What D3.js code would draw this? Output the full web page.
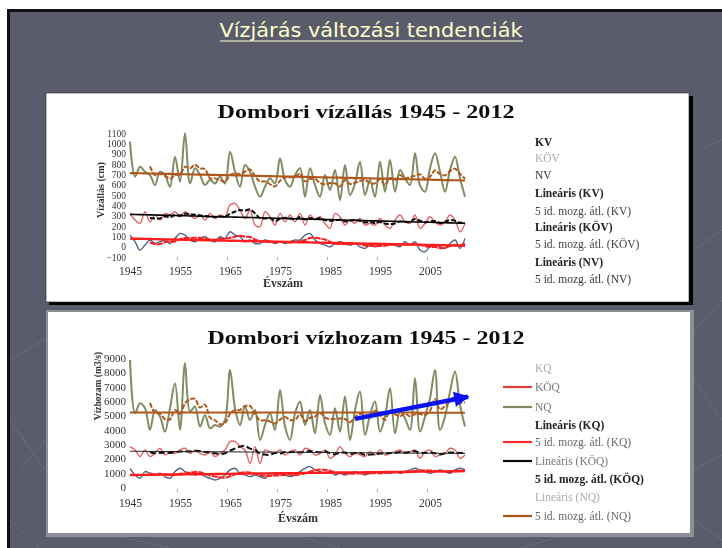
<!DOCTYPE html>
<html><head><meta charset="utf-8">
<script src="https://cdn.jsdelivr.net/npm/d3@7"></script>
<style>html,body{margin:0;padding:0;background:#fff;overflow:hidden}svg{display:block}</style>
</head><body>
<svg id="c" width="722" height="548"></svg>
<script>
// ---------- DATA ----------
const years = d3.range(1945, 2013);
// Vízállás (cm)
const NV = [1016,677,774,725,693,596,725,693,580,871, 629,1097,612,758,693,596,645,612,677,612,
  919,725,580,790,725,580,483,580,661,612, 855,645,580,693,758,483,758,596,483,693,
  548,741,451,790,500,612,822,500,645,483, 822,532,838,532,741,661,596,903,596,532,
  758,903,725,532,741,871,661,483];
const KOV = [322,257,225,338,241,306,257,322,306,338, 290,338,306,273,306,257,322,273,306,290,
  403,419,354,273,354,209,193,338,290,209, 322,241,306,241,322,209,306,257,290,225,
  177,322,290,209,257,225,273,209,225,209, 273,209,177,257,306,241,225,306,177,225,
  290,241,209,241,306,257,144,225];
const KV = [112,48,-33,15,64,31,48,64,31,80, 128,112,64,48,80,96,64,48,96,80,
  144,112,96,48,64,31,31,64,48,31, 48,31,48,64,64,112,128,64,31,15,
  -1,31,48,31,15,31,-1,-17,15,-1, 31,15,31,15,-1,48,15,48,-33,-49,
  -1,15,-1,-17,31,64,-17,80];
// Vízhozam (m3/s)
const NQ = [8865,5144,5842,5493,3981,5376,4911,3864,5493,7237, 3981,8633,5260,5609,4213,5027,4097,4330,4213,4678,
  8167,5493,4330,5609,4678,5376,3283,4330,5144,3981, 6772,4213,3283,5144,5958,4330,5376,3748,6423,4446,
  3632,5493,3864,6307,3283,5376,6656,3632,5027,5958, 3864,4911,6888,3748,5260,4795,3981,7586,3864,4911,
  6190,8167,3981,4911,6656,8051,5725,4213];
const KOQ = [2818,2585,2120,2585,2120,2352,2701,2236,2469,2352, 2585,2701,2352,2585,2352,2236,2469,2120,2352,2585,
  3167,3167,2818,2585,1655,2818,1655,2585,2469,2352, 2585,2236,2469,2585,2236,2701,2585,2236,2352,2585,
  2004,2236,2818,2352,2120,2352,2236,2120,2469,2236, 2585,2236,2352,2469,2585,2352,2469,2585,2004,2469,
  2585,2120,2236,2352,2701,2585,2004,2236];
const KQ = [1306,841,608,1073,957,841,957,724,608,1073, 1306,1073,957,841,957,724,608,492,608,841,
  1190,1306,957,841,724,841,724,608,957,841, 957,841,724,841,1073,1306,1422,1190,1073,957,
  1073,841,957,841,957,1073,957,841,957,1073, 957,1073,957,1073,957,1073,1190,1306,1190,1073,
  957,1073,1190,1073,957,1190,1306,1190];

const levelTicks = [-100,0,100,200,300,400,500,600,700,800,900,1000,1100];
const flowTicks = [0,1000,2000,3000,4000,5000,6000,7000,8000,9000];
const yearLabels = [1945,1955,1965,1975,1985,1995,2005];
const legendTop = ["KV","KÖV","NV","Lineáris (KV)","5 id. mozg. átl. (KV)","Lineáris (KÖV)","5 id. mozg. átl. (KÖV)","Lineáris (NV)","5 id. mozg. átl. (NV)"];
const legendBottom = ["KQ","KÖQ","NQ","Lineáris (KQ)","5 id. mozg. átl. (KQ)","Lineáris (KÖQ)","5 id. mozg. átl. (KÖQ)","Lineáris (NQ)","5 id. mozg. átl. (NQ)"];
const arrowNote = {x1:1990, y1:4750, x2:2012.6, y2:6300};

// ---------- HELPERS ----------
function movAvg(a, n){ return a.map((v,i)=> i<n-1 ? null : d3.mean(a.slice(i-n+1,i+1))); }
function linFit(xs, ys){
  const mx=d3.mean(xs), my=d3.mean(ys);
  let num=0, den=0; xs.forEach((x,i)=>{num+=(x-mx)*(ys[i]-my); den+=(x-mx)*(x-mx);});
  const b=num/den, a=my-b*mx; return xs.map(x=>a+b*x);
}

const svg = d3.select("#c");
const defs = svg.append("defs");
defs.append("filter").attr("id","soft").append("feGaussianBlur").attr("stdDeviation",0.45);
defs.append("marker").attr("id","ah").attr("viewBox","0 0 10 10").attr("refX",9).attr("refY",5)
  .attr("markerWidth",3.6).attr("markerHeight",3.4).attr("orient","auto")
  .append("path").attr("d","M0,0 L10,5 L0,10 z").attr("fill","#0a14f0");

// ---------- SLIDE ----------
svg.append("rect").attr("width",722).attr("height",548).attr("fill","#fff");
svg.append("rect").attr("x",7).attr("y",9).attr("width",715).attr("height",539).attr("fill","#111");
svg.append("rect").attr("x",10).attr("y",12).attr("width",712).attr("height",536).attr("fill","#5a5c6c");
const deco = [[[10,360],[60,330]],[[10,420],[45,470]],[[10,520],[40,548]],[[20,470],[46,440]],
  [[694,330],[722,300]],[[694,380],[722,420]],[[694,470],[722,455]],[[694,250],[722,230]],[[700,150],[722,140]],
  [[694,520],[722,540]],[[120,537],[170,548]],[[300,537],[340,548]],[[520,548],[560,537]]];
svg.append("g").selectAll("line").data(deco).join("line")
  .attr("x1",d=>d[0][0]).attr("y1",d=>d[0][1]).attr("x2",d=>d[1][0]).attr("y2",d=>d[1][1])
  .attr("stroke","#6a6c7c").attr("stroke-width",1);

svg.append("text").attr("x",371).attr("y",37).attr("text-anchor","middle")
  .attr("font-family","DejaVu Sans Condensed, DejaVu Sans, sans-serif").attr("font-size",20)
  .attr("textLength",303).attr("lengthAdjust","spacingAndGlyphs")
  .attr("fill","#ffffcc").text("Vízjárás változási tendenciák");
svg.append("line").attr("x1",220).attr("x2",523).attr("y1",41).attr("y2",41)
  .attr("stroke","#ffffcc").attr("stroke-width",1.2);

// panels
svg.append("rect").attr("x",49).attr("y",96).attr("width",644).attr("height",209).attr("fill","#000");
svg.append("rect").attr("x",46).attr("y",93).attr("width",643).attr("height",209).attr("fill","#fff")
  .attr("stroke","#222").attr("stroke-width",0.6);
svg.append("rect").attr("x",46).attr("y",310).attr("width",648).attr("height",227).attr("fill","#8e8f98");
svg.append("rect").attr("x",48).attr("y",312).attr("width",642).attr("height",221).attr("fill","#fff");

const serif = "Liberation Serif, Times New Roman, serif";

function drawChart(cfg){
  const g = svg.append("g").attr("filter","url(#soft)");
  const x = d3.scaleLinear().domain([1945,2012]).range([130,465]);
  const y = d3.scaleLinear().domain(cfg.domain).range(cfg.range);

  g.append("text").attr("x",cfg.titleX).attr("y",cfg.titleY).attr("text-anchor","middle")
    .attr("font-family",serif).attr("font-weight","bold").attr("font-size",18)
    .attr("textLength",cfg.titleW).attr("lengthAdjust","spacingAndGlyphs")
    .attr("fill","#111").text(cfg.title);

  const ya = g.append("g").attr("transform","translate(128,0)")
    .call(d3.axisLeft(y).tickValues(cfg.ticks).tickSize(0).tickPadding(2).tickFormat(d3.format("d")));
  ya.select(".domain").remove();
  ya.selectAll("text").attr("font-family",serif).attr("font-size",cfg.tickFont).attr("fill","#333");

  const xa = g.append("g").attr("transform",`translate(0,${cfg.xLabY})`)
    .call(d3.axisBottom(x).tickValues(yearLabels).tickSize(0).tickFormat(d3.format("d")));
  xa.select(".domain").remove();
  xa.selectAll("text").attr("font-family",serif).attr("font-size",11.5).attr("fill","#333");
  g.selectAll(".tk").data(yearLabels.slice(1)).join("line")
    .attr("x1",d=>x(d-0.5)).attr("x2",d=>x(d-0.5)).attr("y1",cfg.tickY).attr("y2",cfg.tickY+3)
    .attr("stroke","#aaa").attr("stroke-width",1);

  g.append("text").attr("x",cfg.xtX).attr("y",cfg.xtY).attr("text-anchor","middle")
    .attr("font-family",serif).attr("font-weight","bold").attr("font-size",12).attr("fill","#333").text("Évszám");
  g.append("text").attr("transform",`translate(${cfg.ytX},${cfg.ytY}) rotate(-90)`).attr("text-anchor","middle")
    .attr("font-family",serif).attr("font-weight","bold").attr("font-size",cfg.ytFont).attr("fill","#333").text(cfg.yTitle);

  const line = d3.line().defined(d=>d[1]!=null).x(d=>x(d[0])).y(d=>y(d[1])).curve(d3.curveCatmullRom.alpha(0.5));
  const pts = arr => years.map((yr,i)=>[yr,arr[i]]);

  cfg.series.forEach(s=>{
    g.append("path").attr("d",line(pts(s.data))).attr("fill","none")
      .attr("stroke",s.color).attr("stroke-width",s.w).attr("stroke-linejoin","round");
  });
  cfg.series.forEach(s=>{
    g.append("path").attr("d",line(pts(movAvg(s.data,5)))).attr("fill","none")
      .attr("stroke",s.maColor).attr("stroke-width",2).attr("stroke-dasharray",s.maDash);
    const lf = linFit(years, s.data);
    g.append("path").attr("d",d3.line().x((d,i)=>x(years[i])).y(d=>y(d))(lf)).attr("fill","none")
      .attr("stroke",s.linColor).attr("stroke-width",s.linW);
  });

  const lg = g.append("g");
  cfg.legend.forEach((t,i)=>{
    const st = cfg.legendStyle[i];
    const yy = cfg.legY[i];
    if(st.key) lg.append("line").attr("x1",503).attr("x2",532).attr("y1",yy).attr("y2",yy)
      .attr("stroke",st.key).attr("stroke-width",2.2);
    lg.append("text").attr("x",535).attr("y",yy+4).attr("font-family",serif)
      .attr("font-size",11.5).attr("font-weight",st.bold?"bold":"normal").attr("fill",st.fill).text(t);
  });
  return {x,y,g};
}

const green="#7e8d62", lred="#e06666", slate="#4f6383", brown="#b0581e", red="#ff1f1f";

drawChart({
  title:"Dombori vízállás 1945 - 2012", titleX:366, titleY:118, titleW:297,
  domain:[-100,1100], range:[257,133], ticks:levelTicks, tickFont:9.5, xLabY:264, tickY:257,
  xtX:283, xtY:287, ytX:104, ytY:190, ytFont:10, yTitle:"Vízállás (cm)",
  series:[
    {data:NV, color:green, w:2, maColor:brown, maDash:"5,1.5", linColor:brown, linW:2.2},
    {data:KOV, color:lred, w:1.4, maColor:"#111", maDash:"5,2", linColor:"#000", linW:1.6},
    {data:KV, color:slate, w:1.4, maColor:red, maDash:"6,1", linColor:red, linW:2.4}
  ],
  legend:legendTop,
  legY:[142,158,175,193,211,227,244,262,279],
  legendStyle:[{fill:"#222",bold:true},{fill:"#aaa"},{fill:"#333"},{fill:"#222",bold:true},{fill:"#444"},
    {fill:"#222",bold:true},{fill:"#444"},{fill:"#222",bold:true},{fill:"#333"}]
});

const bottom = drawChart({
  title:"Dombori vízhozam 1945 - 2012", titleX:366, titleY:344, titleW:317,
  domain:[0,9000], range:[487,358], ticks:flowTicks, tickFont:11, xLabY:496, tickY:489,
  xtX:298, xtY:522, ytX:101, ytY:386, ytFont:9.5, yTitle:"Vízhozam (m3/s)",
  series:[
    {data:NQ, color:green, w:2, maColor:brown, maDash:"5,1.5", linColor:brown, linW:2},
    {data:KOQ, color:lred, w:1.4, maColor:"#111", maDash:"6,3", linColor:"#222", linW:1},
    {data:KQ, color:slate, w:1.4, maColor:red, maDash:"6,1", linColor:red, linW:2.4}
  ],
  legend:legendBottom,
  legY:[368,387,407,425,442,461,479,497,516],
  legendStyle:[{fill:"#aaa"},{fill:"#777",key:"#e03c3c"},{fill:"#777",key:"#7a8a5c"},{fill:"#222",bold:true},
    {fill:"#666",key:"#ff2a2a"},{fill:"#777",key:"#111"},{fill:"#222",bold:true},{fill:"#aaa"},{fill:"#666",key:"#a5561f"}]
});

svg.append("line")
  .attr("x1",bottom.x(arrowNote.x1)).attr("y1",bottom.y(arrowNote.y1))
  .attr("x2",bottom.x(arrowNote.x2)).attr("y2",bottom.y(arrowNote.y2))
  .attr("stroke","#0a14f0").attr("stroke-width",4.5).attr("marker-end","url(#ah)");
</script>
</body></html>
